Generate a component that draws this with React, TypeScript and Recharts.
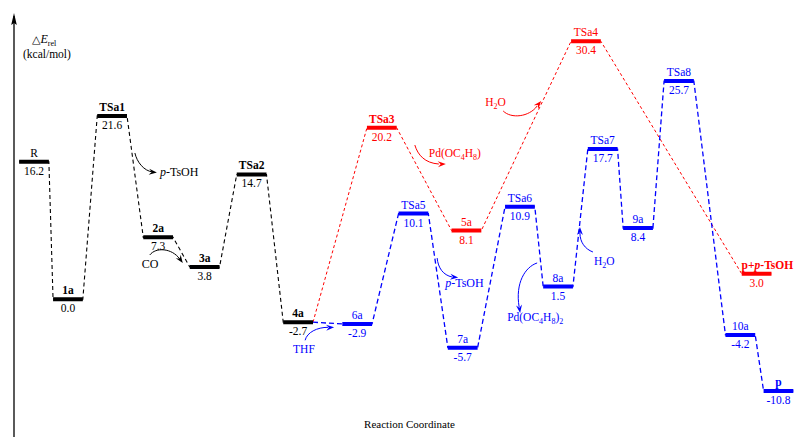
import React from 'react';
import { ComposedChart, Line, Scatter, XAxis, YAxis, ReferenceDot } from 'recharts';

// ---- Data: energy levels (kcal/mol) along the reaction coordinate ----
const blackNames = ['R', '1a', 'TSa1', '2a', '3a', 'TSa2', '4a'];
const blackEnergies = [16.2, 0.0, 21.6, 7.3, 3.8, 14.7, -2.7];
const blackCoords = [0, 0.73, 1.68, 2.67, 3.67, 4.68, 5.68];

const redNames = ['TSa3', '5a', 'TSa4', 'p+p-TsOH'];
const redEnergies = [20.2, 8.1, 30.4, 3.0];
const redCoords = [7.48, 9.3, 11.87, 15.54];

const blueNames = ['6a', 'TSa5', '7a', 'TSa6', '8a', 'TSa7', '9a', 'TSa8', '10a', 'p'];
const blueEnergies = [-2.9, 10.1, -5.7, 10.9, 1.5, 17.7, 8.4, 25.7, -4.2, -10.8];
const blueCoords = [6.95, 8.16, 9.22, 10.45, 11.27, 12.23, 12.99, 13.87, 15.19, 16.01];

// annotation anchors (reaction coordinate, energy)
const annotationIds = ['pTsOH1', 'CO', 'THF', 'Pd1', 'H2O1', 'pTsOH2', 'Pd2', 'H2O2'];
const annotationCoords = [2.17, 2.49, 5.83, 8.19, 10.09, 8.67, 10.82, 12.02];
const annotationEnergies = [17.23, 5.22, -4.83, 18.17, 22.18, 4.86, 4.28, 5.57];

const boldNames = new Set(['1a', 'TSa1', '2a', '3a', 'TSa2', '4a', 'TSa3', 'p+p-TsOH', 'p']);

// ---- styling / layout constants ----
const W = 795;
const H = 437;
const HW = 0.32; // half bar width in reaction-coordinate units
const X_MIN = -0.4301;
const X_MAX = 16.3656;
const Y_MIN = -16.219;
const Y_MAX = 33.369;
const FONT = '"Liberation Serif", "Times New Roman", serif';
const BLACK = '#000000';
const RED = '#ff0000';
const BLUE = '#0000ff';

function barPoints(coords: number[], energies: number[]) {
  const pts: any[] = [];
  coords.forEach((c, i) => {
    pts.push({ x: c - HW, y: energies[i] });
    pts.push({ x: c + HW, y: energies[i] });
    pts.push({ x: c + HW + 0.001, y: null });
  });
  return pts;
}

function pathPoints(coords: number[], energies: number[], start?: any) {
  const pts: any[] = start ? [start] : [];
  coords.forEach((c, i) => {
    pts.push({ x: c - HW, y: energies[i] });
    pts.push({ x: c + HW, y: energies[i] });
  });
  return pts;
}

function labelPoints(names: string[], coords: number[], energies: number[]) {
  return names.map((n, i) => ({ x: coords[i], y: energies[i], name: n }));
}

const branchStart = { x: blackCoords[6] + HW, y: blackEnergies[6] };

const blackPath = pathPoints(blackCoords, blackEnergies);
const redPath = pathPoints(redCoords, redEnergies, branchStart);
const bluePath = pathPoints(blueCoords, blueEnergies, branchStart);
const blackBars = barPoints(blackCoords, blackEnergies);
const redBars = barPoints(redCoords, redEnergies);
const blueBars = barPoints(blueCoords, blueEnergies);
const blackLabels = labelPoints(blackNames, blackCoords, blackEnergies);
const redLabels = labelPoints(redNames, redCoords, redEnergies);
const blueLabels = labelPoints(blueNames, blueCoords, blueEnergies);
const annotations = annotationIds.map((id, i) => ({ x: annotationCoords[i], y: annotationEnergies[i], id }));

function renderName(name: string) {
  if (name === 'p+p-TsOH') {
    return (
      <>
        <tspan>p+</tspan>
        <tspan fontStyle="italic">p</tspan>
        <tspan>-TsOH</tspan>
      </>
    );
  }
  return name;
}

function makeLevelLabel(color: string) {
  return (props: any) => {
    const { cx, cy, payload } = props;
    if (cx == null || cy == null) return <g />;
    const name: string = payload.name;
    const bold = boldNames.has(name);
    const special = name === 'p+p-TsOH';
    return (
      <g>
        <text
          x={special ? cx - 15 : cx}
          y={cy - 5}
          textAnchor={special ? 'start' : 'middle'}
          fontSize={11.5}
          fontFamily={FONT}
          fontWeight={bold ? 'bold' : 'normal'}
          fill={color}
        >
          {renderName(name)}
        </text>
        <text x={cx} y={cy + 13} textAnchor="middle" fontSize={11.5} fontFamily={FONT} fill={color}>
          {Number(payload.y).toFixed(1)}
        </text>
      </g>
    );
  };
}

function head(tx: number, ty: number, angleDeg: number, color: string) {
  const a = (angleDeg * Math.PI) / 180;
  const L = 8;
  const Wd = 3;
  const bx = tx - L * Math.cos(a);
  const by = ty - L * Math.sin(a);
  const mx = tx - 0.65 * L * Math.cos(a);
  const my = ty - 0.65 * L * Math.sin(a);
  const px = -Math.sin(a);
  const py = Math.cos(a);
  const pts = [
    [tx, ty],
    [bx + px * Wd, by + py * Wd],
    [mx, my],
    [bx - px * Wd, by - py * Wd],
  ]
    .map((p) => p.join(','))
    .join(' ');
  return <polygon points={pts} fill={color} stroke="none" />;
}

function Pd(sub2: boolean) {
  return (
    <>
      <tspan>Pd(OC</tspan>
      <tspan fontSize={8} dy={3}>4</tspan>
      <tspan dy={-3}>H</tspan>
      <tspan fontSize={8} dy={3}>8</tspan>
      <tspan dy={-3}>)</tspan>
      {sub2 ? (
        <tspan fontSize={8} dy={3}>2</tspan>
      ) : null}
    </>
  );
}

function H2O() {
  return (
    <>
      <tspan>H</tspan>
      <tspan fontSize={8} dy={3}>2</tspan>
      <tspan dy={-3}>O</tspan>
    </>
  );
}

function pTsOH() {
  return (
    <>
      <tspan fontStyle="italic">p</tspan>
      <tspan>-TsOH</tspan>
    </>
  );
}

const AnnotationShape = (props: any) => {
  const { cx, cy, payload } = props;
  if (cx == null || cy == null) return <g />;
  const t = (x: number, y: number) => `${cx + x},${cy + y}`;
  const common = { fontSize: 11.5, fontFamily: FONT } as any;
  switch (payload.id) {
    case 'pTsOH1':
      return (
        <g>
          <path d={`M${t(0, 0)} C${t(2, 9)} ${t(9, 18)} ${t(18, 19)}`} fill="none" stroke={BLACK} strokeWidth={1} />
          {head(cx + 22, cy + 19.5, 5, BLACK)}
          <text x={cx + 25} y={cy + 23} fill={BLACK} {...common} fontSize={12}>{pTsOH()}</text>
        </g>
      );
    case 'CO':
      return (
        <g>
          <path d={`M${t(0, 0)} C${t(6, -8)} ${t(22, -7)} ${t(30, 4)}`} fill="none" stroke={BLACK} strokeWidth={1} />
          {head(cx + 33, cy + 8, 55, BLACK)}
          <text x={cx - 8} y={cy + 13} fill={BLACK} {...common} fontSize={12}>CO</text>
        </g>
      );
    case 'THF':
      return (
        <g>
          <path d={`M${t(0, 0)} C${t(2, -8)} ${t(12, -13)} ${t(23, -13)}`} fill="none" stroke={BLUE} strokeWidth={1} />
          {head(cx + 29, cy - 13, -3, BLUE)}
          <text x={cx - 12} y={cy + 13} fill={BLUE} {...common}>THF</text>
        </g>
      );
    case 'Pd1':
      return (
        <g>
          <path d={`M${t(0, 0)} C${t(3, 10)} ${t(10, 18)} ${t(24, 19)}`} fill="none" stroke={RED} strokeWidth={1} />
          {head(cx + 31, cy + 19, -2, RED)}
          <text x={cx + 14} y={cy + 12} fill={RED} {...common}>{Pd(false)}</text>
        </g>
      );
    case 'H2O1':
      return (
        <g>
          <path d={`M${t(0, 0)} C${t(8, 8)} ${t(26, 6)} ${t(34, -5)}`} fill="none" stroke={RED} strokeWidth={1} />
          {head(cx + 38, cy - 10, -50, RED)}
          <text x={cx - 18} y={cy - 5} fill={RED} {...common}>{H2O()}</text>
        </g>
      );
    case 'pTsOH2':
      return (
        <g>
          <path d={`M${t(0, 0)} C${t(1, 10)} ${t(6, 17)} ${t(15, 19)}`} fill="none" stroke={BLUE} strokeWidth={1} />
          {head(cx + 21, cy + 19.5, 5, BLUE)}
          <text x={cx + 8} y={cy + 29} fill={BLUE} {...common} fontSize={12}>{pTsOH()}</text>
        </g>
      );
    case 'Pd2':
      return (
        <g>
          <path d={`M${t(0, 0)} C${t(-12, 4)} ${t(-22, 20)} ${t(-18, 44)}`} fill="none" stroke={BLUE} strokeWidth={1} />
          {head(cx - 17, cy + 50, 82, BLUE)}
          <text x={cx - 30} y={cy + 58} fill={BLUE} {...common}>{Pd(true)}</text>
        </g>
      );
    case 'H2O2':
      return (
        <g>
          <path d={`M${t(0, 0)} C${t(-8, -3)} ${t(-13, -10)} ${t(-13, -19)}`} fill="none" stroke={BLUE} strokeWidth={1} />
          {head(cx - 13, cy - 25, -90, BLUE)}
          <text x={cx + 1} y={cy + 13} fill={BLUE} {...common}>{H2O()}</text>
        </g>
      );
    default:
      return <g />;
  }
};

const AxisArrow = (props: any) => {
  const { cx, cy } = props;
  if (cx == null || cy == null) return <g />;
  return (
    <g>
      <polygon
        points={`${cx},${cy - 3} ${cx - 2.8},${cy + 9} ${cx},${cy + 7} ${cx + 2.8},${cy + 9}`}
        fill={BLACK}
      />
      <text x={cx + 18} y={cy + 27} fontSize={12} fontFamily={FONT} fill={BLACK}>
        <tspan fontFamily='"DejaVu Sans", sans-serif' fontSize={11}>{'\u25B3'}</tspan>
        <tspan fontStyle="italic">E</tspan>
        <tspan fontSize={8} dy={3}>rel</tspan>
      </text>
      <text x={cx + 9} y={cy + 42} fontSize={11.5} fontFamily={FONT} fill={BLACK}>
        (kcal/mol)
      </text>
    </g>
  );
};

const XTitle = (props: any) => {
  const { cx, cy } = props;
  if (cx == null || cy == null) return <g />;
  return (
    <text x={cx} y={cy - 9} textAnchor="middle" fontSize={11} fontFamily={FONT} fill={BLACK}>
      Reaction Coordinate
    </text>
  );
};

export default function App() {
  return (
    <div style={{ position: 'absolute', left: 0, top: 0, width: W, height: H, background: '#fff', fontFamily: FONT }}>
      <ComposedChart width={W} height={H} margin={{ top: 16, right: 0, bottom: 0, left: 0 }}>
        <XAxis type="number" dataKey="x" domain={[X_MIN, X_MAX]} allowDataOverflow hide />
        <YAxis
          type="number"
          dataKey="y"
          domain={[Y_MIN, Y_MAX]}
          allowDataOverflow
          width={14}
          tick={false}
          tickLine={false}
          axisLine={{ stroke: BLACK, strokeWidth: 1.3 }}
        />
        <Line data={blackPath} dataKey="y" stroke={BLACK} strokeWidth={1.1} strokeDasharray="4 3" dot={false} isAnimationActive={false} type="linear" />
        <Line data={redPath} dataKey="y" stroke={RED} strokeWidth={1} strokeDasharray="3 2.5" dot={false} isAnimationActive={false} type="linear" />
        <Line data={bluePath} dataKey="y" stroke={BLUE} strokeWidth={1.3} strokeDasharray="5 3" dot={false} isAnimationActive={false} type="linear" />
        <Line data={blackBars} dataKey="y" stroke={BLACK} strokeWidth={4} dot={false} isAnimationActive={false} type="linear" connectNulls={false} />
        <Line data={redBars} dataKey="y" stroke={RED} strokeWidth={4} dot={false} isAnimationActive={false} type="linear" connectNulls={false} />
        <Line data={blueBars} dataKey="y" stroke={BLUE} strokeWidth={4} dot={false} isAnimationActive={false} type="linear" connectNulls={false} />
        <Scatter data={blackLabels} dataKey="y" shape={makeLevelLabel(BLACK)} isAnimationActive={false} />
        <Scatter data={redLabels} dataKey="y" shape={makeLevelLabel(RED)} isAnimationActive={false} />
        <Scatter data={blueLabels} dataKey="y" shape={makeLevelLabel(BLUE)} isAnimationActive={false} />
        <Scatter data={annotations} dataKey="y" shape={AnnotationShape} isAnimationActive={false} />
        <ReferenceDot x={X_MIN} y={Y_MAX} ifOverflow="visible" shape={AxisArrow} />
        <ReferenceDot x={8.075} y={Y_MIN} ifOverflow="visible" shape={XTitle} />
      </ComposedChart>
    </div>
  );
}
